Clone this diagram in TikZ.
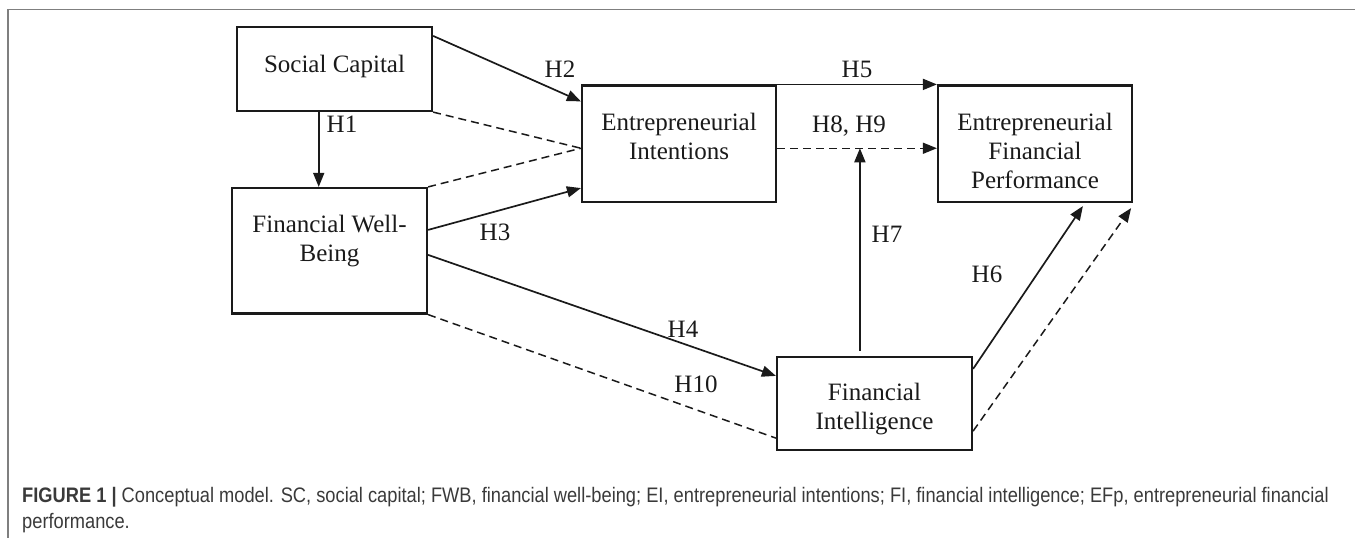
\documentclass[tikz,border=0pt]{standalone}
\usepackage{fontspec}
\setmainfont{Liberation Serif}
\newfontfamily\capfont[FakeStretch=0.87]{Liberation Sans}
\usetikzlibrary{arrows.meta,calc}
\definecolor{ink}{HTML}{1A1A1A}
\definecolor{framegray}{HTML}{7F7F7F}
\definecolor{capgray}{HTML}{3A3A3A}
\begin{document}
\begin{tikzpicture}[x=1pt,y=-1pt,
  box/.style={draw=ink, line width=2.2pt, inner sep=0pt},
  txt/.style={font=\fontsize{25}{29}\selectfont, align=center, inner sep=0pt, text=ink},
  hyp/.style={font=\fontsize{25}{29}\selectfont, inner sep=0pt, anchor=base, text=ink},
  arr/.style={draw=ink, line width=1.7pt, -{Triangle[length=14pt,width=11pt]}},
  dsh/.style={draw=ink, line width=1.5pt, dash pattern=on 8pt off 5pt},
  darr/.style={dsh, -{Triangle[length=14pt,width=11pt]}}]
\useasboundingbox (0,0) rectangle (1355,538);
% frame
\draw[framegray, line width=1.5pt] (8,538) -- (8,9.5) -- (1355,9.5);
% boxes
\node[box, minimum width=195pt, minimum height=84pt] (sc) at (334.5,69) {};
\node[box, minimum width=195pt, minimum height=125.5pt] (fwb) at (329.5,250.75) {};
\node[box, minimum width=194pt, minimum height=116.5pt] (ei) at (679,143.75) {};
\node[box, minimum width=194pt, minimum height=116.5pt] (efp) at (1035,143.75) {};
\node[box, minimum width=195pt, minimum height=93pt] (fi) at (874.5,403.5) {};
% box texts
\node[txt] (sct) at (334.5,66) {Social Capital};
\node[txt] (fwbt) at (329.5,241) {Financial Well-\\Being};
\node[txt] (eit) at (679,136) {Entrepreneurial\\Intentions};
\node[txt] (efpt) at (1035,150.5) {Entrepreneurial\\Financial\\Performance};
\node[txt] (fit) at (874.5,409) {Financial\\Intelligence};
% helper coordinates
\coordinate (eid) at ($(ei.west)+(0,4.5)$);
\coordinate (h1s) at ($(sc.south west)!0.42!(sc.south east)$);
\coordinate (h7s) at ($(fi.north west)+(84,0)$);
% connectors
\draw[arr] (h1s) -- (h1s |- fwb.north);
\draw[arr] ($(sc.north east)+(0,10)$) -- ($(ei.north west)+(0,17)$);
\draw[dsh] (sc.south east) -- (eid);
\draw[dsh] (fwb.north east) -- (eid);
\draw[arr] ($(fwb.north east)+(0,43)$) -- ($(ei.south west)+(0,-15)$);
\draw[arr] ($(fwb.north east)+(0,68)$) -- ($(fi.north west)+(0,20)$);
\draw[dsh] (fwb.south east) -- ($(fi.south west)+(0,-13)$);
\draw[arr] (ei.north east) -- (efp.north west);
\draw[darr] ($(ei.east)+(0,4.5)$) -- ($(efp.west)+(0,4.5)$);
\draw[arr, shorten <=5pt] (h7s) -- (h7s |- eid);
\draw[arr] ($(fi.north east)+(0,13)$) -- ($(efp.south west)+(146,3)$);
\draw[darr] ($(fi.south east)+(0,-20)$) -- ($(efp.south east)+(-2,5)$);
% hypothesis labels
\node[hyp] (lh1) at (342,132) {H1};
\node[hyp] (lh2) at (560,77) {H2};
\node[hyp] (lh3) at (495,240) {H3};
\node[hyp] (lh4) at (683,337) {H4};
\node[hyp] (lh5) at (857,77) {H5};
\node[hyp] (lh89) at (849,132) {H8, H9};
\node[hyp] (lh7) at (887,242) {H7};
\node[hyp] (lh6) at (987,282) {H6};
\node[hyp] (lh10) at (696,392) {H10};
% caption
\node[anchor=north west, align=left, inner sep=0pt, text=capgray,
      font=\capfont\fontsize{21}{26.5}\selectfont] (cap) at (22,487)
  {\textbf{FIGURE 1 |} Conceptual model. SC, social capital; FWB, financial well-being; EI, entrepreneurial intentions; FI, financial intelligence; EFp, entrepreneurial financial\\performance.};
\end{tikzpicture}
\end{document}
